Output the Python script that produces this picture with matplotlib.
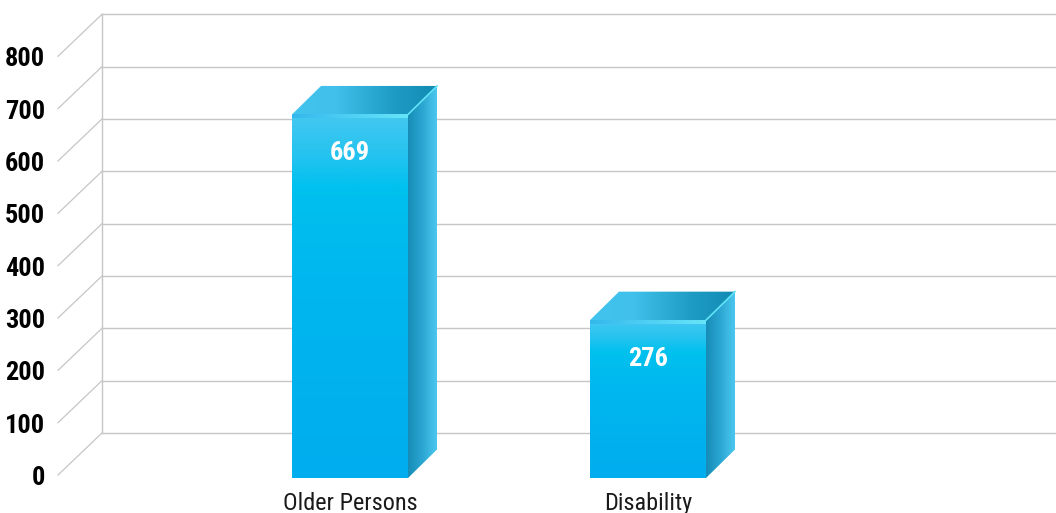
import numpy as np
import matplotlib.pyplot as plt
from matplotlib.patches import Polygon
from matplotlib.colors import LinearSegmentedColormap

categories = ["Older Persons", "Disability"]
values = [669, 276]
ticks = [0, 100, 200, 300, 400, 500, 600, 700, 800]

# pixel-ish geometry of the fake 3d chart
PX_PER_UNIT = 0.5234
PX_PER_CAT = 298.0
wall_dx = -44 / PX_PER_CAT        # front plane is shifted left ...
wall_dy = -42 / PX_PER_UNIT       # ... and down from the back wall
bar_w = 116 / PX_PER_CAT
bar_ddx = 29 / PX_PER_CAT
bar_ddy = 28.5 / PX_PER_UNIT
bar_base = -86                    # where the bar front face meets the floor
bar_sink = -60.4                  # shift of bar tops (perspective)
wall_left = (102 - 350) / PX_PER_CAT

fonts = ["Roboto Condensed", "Roboto", "DejaVu Sans"]
grid_c = "#c6c6c6"

fig = plt.figure(figsize=(10.56, 5.13), dpi=100)
ax = fig.add_axes([0, 0, 1, 1])
ax.axis("off")
xlim = (-350 / PX_PER_CAT, (1056 - 350) / PX_PER_CAT)
ylim = ((433 - 513) / PX_PER_UNIT, 433 / PX_PER_UNIT)

# back wall + front diagonals
for t in ticks:
    ax.plot([wall_left, xlim[1]], [t, t], color=grid_c, lw=1.0, zorder=1)
    ax.plot([wall_left + wall_dx, wall_left], [t + wall_dy, t], color=grid_c, lw=0.9, zorder=1)
    ax.text(wall_left + wall_dx - 13 / PX_PER_CAT, t + wall_dy - 3 / PX_PER_UNIT, str(t),
            ha="right", va="center", fontsize=19, fontweight="heavy", family=fonts,
            fontstretch="condensed", color="black")
ax.plot([wall_left, wall_left], [0, ticks[-1]], color=grid_c, lw=1.0, zorder=1)


def grad_face(pts, stops, direction):
    poly = Polygon(pts, closed=True, facecolor="none", edgecolor="none", zorder=3)
    ax.add_patch(poly)
    xs = [p[0] for p in pts]
    ys = [p[1] for p in pts]
    cmap = LinearSegmentedColormap.from_list("g", stops)
    g = np.linspace(0, 1, 256)
    img = g[np.newaxis, :] if direction == "h" else g[:, np.newaxis]
    im = ax.imshow(img, cmap=cmap, extent=(min(xs), max(xs), min(ys), max(ys)),
                   origin="lower", aspect="auto", zorder=3, interpolation="bilinear")
    im.set_clip_path(poly)


for i, (cat, v) in enumerate(zip(categories, values)):
    x0 = i - bar_w / 2
    x1 = i + bar_w / 2
    top = v + bar_sink
    # front face
    grad_face([(x0, bar_base), (x1, bar_base), (x1, top), (x0, top)],
              [(0, "#00adee"), (0.55, "#00b7ee"), (0.8, "#00c1ef"), (0.88, "#22c3ef"),
               (1, "#44c8f1")], "v")
    # thin highlight strip at the top of the front face
    strip = 4 / PX_PER_UNIT
    grad_face([(x0, top - strip), (x1, top - strip), (x1, top), (x0, top)],
              ["#34b8ec", "#4fd0f4", "#66e4f8"], "h")
    # top face
    grad_face([(x0, top), (x1, top), (x1 + bar_ddx, top + bar_ddy), (x0 + bar_ddx, top + bar_ddy)],
              [(0, "#42c4ee"), (0.3, "#40c0ea"), (0.7, "#1e9cc6"), (1, "#128ab3")], "h")
    # side face
    grad_face([(x1, bar_base), (x1 + bar_ddx, bar_base + bar_ddy),
               (x1 + bar_ddx, top + bar_ddy), (x1, top)],
              ["#168cb6", "#2ba6d2", "#4cc8ef"], "h")
    ax.plot([x1, x1 + bar_ddx], [top, top + bar_ddy], color="#5fe4f6", lw=1.2, zorder=4)

    ax.text(i, top - 39 / PX_PER_UNIT, str(v), ha="center", va="center", fontsize=19,
            fontweight="bold", family=fonts, fontstretch="condensed", color="white", zorder=5)
    ax.text(i, (433 - 510) / PX_PER_UNIT, cat, ha="center", va="baseline", fontsize=17.5,
            family=fonts, fontstretch="condensed", color="#1a1a1a")

ax.set_xlim(*xlim)
ax.set_ylim(*ylim)
fig.savefig("out.png", dpi=100)
